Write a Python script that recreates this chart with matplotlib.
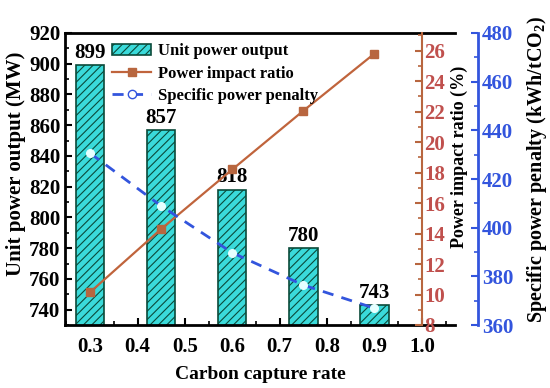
import matplotlib
matplotlib.use("Agg")
import matplotlib.pyplot as plt
from matplotlib.ticker import MultipleLocator

plt.rcParams['font.family'] = ['Liberation Serif', 'DejaVu Serif']
plt.rcParams['font.weight'] = 'bold'
plt.rcParams['mathtext.fontset'] = 'custom'
plt.rcParams['mathtext.rm'] = 'Liberation Serif:bold'
plt.rcParams['mathtext.bf'] = 'Liberation Serif:bold'
plt.rcParams['hatch.linewidth'] = 0.8

# data
capture_rate = [0.3, 0.45, 0.6, 0.75, 0.9]
unit_power = [899, 857, 818, 780, 743]
impact_ratio = [10.15, 14.3, 18.2, 22.05, 25.8]
power_penalty = [430.6, 408.9, 389.7, 376.4, 366.9]

brown = '#B8663F'
brown_lbl = '#C0504D'
blue = '#3355DD'

fig = plt.figure(figsize=(5.5, 3.88), dpi=100)
ax = fig.add_axes([65 / 550, 63 / 388, 390 / 550, 292 / 388])

bars = ax.bar(capture_rate, unit_power, width=0.06, color='#3ADADA',
              edgecolor='#0A4A3A', hatch='////', linewidth=1.2,
              label='Unit power output', zorder=2)
for x, v in zip(capture_rate, unit_power):
    ax.text(x, v + 1.5, str(v), ha='center', va='bottom',
            fontsize=15, fontweight='bold')

ax.set_xlim(0.247, 1.07)
ax.set_ylim(730, 920)
ax.xaxis.set_minor_locator(MultipleLocator(0.05))
ax.yaxis.set_minor_locator(MultipleLocator(10))
ax.set_xticks([0.3, 0.4, 0.5, 0.6, 0.7, 0.8, 0.9, 1.0])
ax.set_xticklabels(['0.3', '0.4', '0.5', '0.6', '0.7', '0.8', '0.9', '1.0'])
ax.set_yticks(range(740, 921, 20))
ax.tick_params(axis='both', which='major', direction='in', length=5,
               width=1.5, labelsize=15)
ax.tick_params(axis='x', which='major', pad=9)
ax.tick_params(axis='both', which='minor', direction='in', length=3,
               width=1.2)
ax.tick_params(top=False, right=False, which='both')
ax.spines['right'].set_visible(False)
for s in ['left', 'bottom', 'top']:
    ax.spines[s].set_linewidth(2)
ax.set_xlabel('Carbon capture rate', fontsize=14, fontweight='bold',
              labelpad=6)
ax.set_ylabel('Unit power output (MW)', fontsize=15, fontweight='bold')
ax.yaxis.set_label_coords(-0.1, 0.551)

# power impact ratio axis, spine sitting at x = 1.0
ax2 = ax.twinx()
ax2.spines['right'].set_position(('data', 1.0))
ax2.spines['right'].set_color(brown)
ax2.spines['right'].set_linewidth(1.5)
for s in ['left', 'top', 'bottom']:
    ax2.spines[s].set_visible(False)
l2, = ax2.plot(capture_rate, impact_ratio, color='#C0643C', lw=1.6,
               marker='s', ms=5.5, mfc=brown, mec=brown,
               label='Power impact ratio', zorder=3)
ax2.set_ylim(8, 27.15)
ax2.yaxis.set_major_locator(MultipleLocator(2))
ax2.yaxis.set_minor_locator(MultipleLocator(1))
ax2.tick_params(axis='y', which='major', direction='in', length=5,
                width=1.5, color=brown, labelcolor=brown_lbl, labelsize=15,
                pad=2)
ax2.tick_params(axis='y', which='minor', direction='in', length=3,
                width=1.2, color=brown)
ax2.set_ylabel('Power impact ratio (%)', fontsize=13, fontweight='bold')
ax2.yaxis.set_label_coords(0.99, 0.575)

# specific power penalty axis, offset outward
ax3 = ax.twinx()
ax3.spines['right'].set_position(('axes', 1.059))
ax3.spines['right'].set_color(blue)
ax3.spines['right'].set_linewidth(2)
for s in ['left', 'top', 'bottom']:
    ax3.spines[s].set_visible(False)
l3, = ax3.plot(capture_rate, power_penalty, color=blue, lw=2,
               ls=(0, (4, 3)), marker='o', ms=5.5, mfc='#E6FFFF',
               mec='#E6FFFF', label='Specific power penalty', zorder=3)
ax3.set_ylim(360, 480)
ax3.yaxis.set_major_locator(MultipleLocator(20))
ax3.yaxis.set_minor_locator(MultipleLocator(10))
ax3.tick_params(axis='y', which='major', direction='in', length=5,
                width=1.5, color=blue, labelcolor=blue, labelsize=15,
                pad=3)
ax3.tick_params(axis='y', which='minor', direction='in', length=3,
                width=1.2, color=blue)
ax3.set_ylabel('Specific power penalty (kWh/tCO$_2$)', fontsize=14.5,
               fontweight='bold')
ax3.yaxis.set_label_coords(1.18, 0.531)

leg_l3 = plt.Line2D([], [], color=blue, lw=2, ls=(0, (4, 3)), marker='o',
                    ms=6, mfc='white', mec=blue)
fig.legend([bars, l2, leg_l3],
           ['Unit power output', 'Power impact ratio', 'Specific power penalty'],
           loc='upper left', bbox_to_anchor=(104 / 550, 1 - 35 / 388),
           frameon=False, handlelength=2.3, borderpad=0,
           labelspacing=0.38, handletextpad=0.45,
           prop={'family': 'Liberation Serif', 'weight': 'bold', 'size': 12})

fig.savefig('out.png', dpi=100)
